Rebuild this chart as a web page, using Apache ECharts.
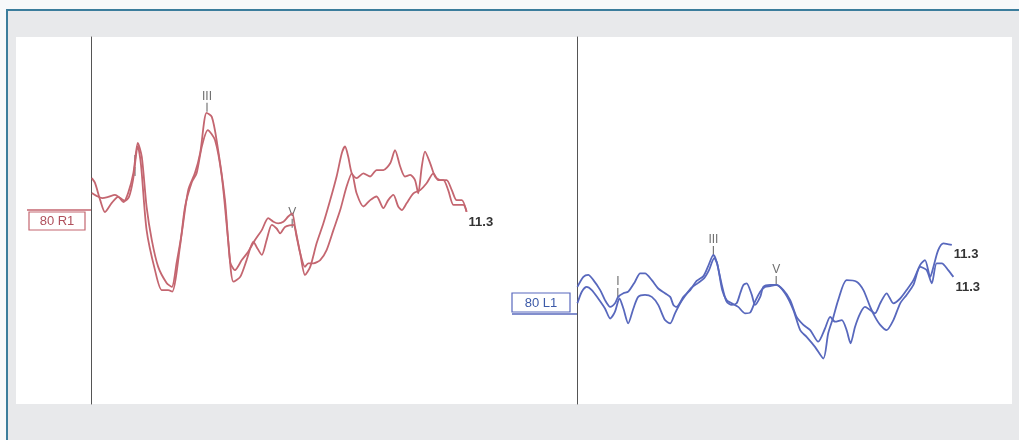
<!DOCTYPE html>
<html>
<head>
<meta charset="utf-8">
<script src="https://cdn.jsdelivr.net/npm/echarts@6/dist/echarts.min.js"></script>
<style>
  html, body { margin: 0; padding: 0; width: 1019px; height: 440px; overflow: hidden; background: #f7f9fa; }
  #frame { position: absolute; left: 6px; top: 9px; width: 1013px; height: 431px; border-top: 2px solid #3b7d9c; border-left: 2px solid #3b7d9c; background: #e8e9eb; box-sizing: border-box; }
  #panel { position: absolute; left: 16px; top: 37px; width: 996px; height: 367px; background: #ffffff; }
  #chart { position: absolute; left: 0; top: 0; width: 1019px; height: 440px; }
</style>
</head>
<body>
<div id="frame"></div>
<div id="panel"></div>
<div id="chart"></div>
<script>
// Time in ms, amplitude in arbitrary units
const rightEarTrace1 = [
  [0.02,1.06],[0.10,0.94],[0.23,0.51],[0.35,0.21],[0.52,0.44],[0.68,0.59],[0.81,0.46],[0.93,0.69],
  [1.06,1.19],[1.17,1.94],[1.27,1.59],[1.39,0.34],[1.52,-0.49],[1.68,-1.16],[1.89,-1.56],[2.02,-1.66],
  [2.14,-1.06],[2.27,-0.31],[2.43,0.76],[2.60,1.19],[2.73,1.69],[2.89,2.69],[3.02,2.59],[3.14,2.01],
  [3.35,0.51],[3.48,-1.04],[3.60,-1.24],[3.77,-0.99],[3.93,-0.78],[4.10,-0.49],[4.27,-0.24],[4.43,0.06],
  [4.56,-0.03],[4.68,-0.07],[4.81,-0.03],[4.93,0.10],[5.03,0.18],[5.10,-0.16],[5.23,-0.82],[5.35,-1.36],
  [5.48,-1.16],[5.64,-0.57],[5.81,-0.07],[5.98,0.51],[6.14,1.10],[6.27,1.68],[6.35,1.85],[6.43,1.60],
  [6.52,1.18],[6.64,1.06],[6.81,1.18],[6.98,1.10],[7.14,1.26],[7.31,1.26],[7.48,1.43],[7.60,1.76],
  [7.73,1.35],[7.85,1.10],[7.98,1.14],[8.10,1.01],[8.18,0.68],[8.27,1.35],[8.35,1.72],[8.48,1.43],
  [8.60,1.10],[8.73,1.01],[8.89,1.01],[9.02,0.76],[9.14,0.51],[9.27,0.51],[9.39,0.22]
];
const rightEarTrace2 = [
  [0.02,0.69],[0.15,0.61],[0.28,0.56],[0.43,0.59],[0.60,0.64],[0.73,0.56],[0.85,0.49],[0.95,0.59],
  [1.05,1.01],[1.17,1.86],[1.25,1.39],[1.39,-0.24],[1.60,-1.24],[1.77,-1.74],[1.93,-1.74],[2.03,-1.78],
  [2.23,-0.61],[2.35,0.34],[2.52,0.96],[2.64,1.18],[2.77,1.85],[2.92,2.26],[3.10,2.01],[3.27,1.10],
  [3.43,-0.49],[3.56,-1.53],[3.73,-1.41],[3.89,-0.99],[4.06,-0.53],[4.14,-0.66],[4.27,-0.86],[4.39,-0.49],
  [4.52,-0.11],[4.64,-0.20],[4.73,-0.32],[4.85,-0.16],[5.06,-0.11],[5.14,-0.41],[5.23,-0.82],[5.35,-1.16],
  [5.43,-1.07],[5.56,-1.07],[5.73,-0.99],[5.89,-0.74],[6.06,-0.24],[6.23,0.26],[6.39,0.85],[6.52,1.18],
  [6.64,0.68],[6.81,0.35],[6.98,0.51],[7.14,0.60],[7.31,0.31],[7.43,0.51],[7.56,0.64],[7.68,0.35],
  [7.77,0.26],[7.89,0.43],[8.06,0.68],[8.23,0.76],[8.39,0.93],[8.56,1.18],[8.68,1.01],[8.81,1.01],
  [8.93,0.76],[9.06,0.39],[9.18,0.39],[9.31,0.39],[9.39,0.22]
];
const leftEarTrace1 = [
  [0.01,-1.66],[0.16,-1.41],[0.28,-1.36],[0.41,-1.49],[0.58,-1.74],[0.70,-1.99],[0.83,-2.16],[0.95,-2.07],
  [1.03,-1.91],[1.16,-1.82],[1.28,-1.78],[1.45,-1.53],[1.58,-1.32],[1.70,-1.32],[1.87,-1.49],[2.03,-1.70],
  [2.20,-1.82],[2.33,-1.91],[2.41,-2.11],[2.49,-2.16],[2.66,-1.91],[2.83,-1.74],[2.99,-1.51],[3.16,-1.39],
  [3.28,-1.14],[3.41,-0.86],[3.49,-1.03],[3.62,-1.61],[3.74,-2.03],[3.87,-2.11],[3.99,-2.07],[4.08,-1.82],
  [4.16,-1.61],[4.24,-1.57],[4.37,-1.86],[4.45,-2.11],[4.58,-1.91],[4.66,-1.66],[4.83,-1.61],[4.98,-1.61],
  [5.16,-1.74],[5.33,-1.99],[5.49,-2.41],[5.66,-2.61],[5.83,-2.74],[6.03,-3.03],[6.20,-2.70],[6.33,-2.41],
  [6.45,-2.53],[6.62,-2.49],[6.74,-2.74],[6.84,-3.07],[6.95,-2.66],[7.08,-2.32],[7.20,-2.16],[7.33,-2.24],
  [7.45,-2.32],[7.58,-2.07],[7.74,-1.82],[7.91,-2.07],[8.08,-1.95],[8.24,-1.74],[8.41,-1.49],[8.58,-1.11],
  [8.70,-0.99],[8.83,-1.41],[8.91,-1.16],[9.03,-0.74],[9.16,-0.57],[9.37,-0.61]
];
const leftEarTrace2 = [
  [0.01,-2.07],[0.12,-1.78],[0.24,-1.66],[0.37,-1.74],[0.53,-1.95],[0.70,-2.20],[0.83,-2.45],[0.95,-2.28],
  [1.06,-1.95],[1.16,-2.20],[1.28,-2.57],[1.41,-2.20],[1.53,-1.91],[1.70,-1.86],[1.87,-1.91],[2.03,-2.11],
  [2.20,-2.49],[2.33,-2.57],[2.45,-2.32],[2.58,-2.07],[2.70,-1.89],[2.85,-1.69],[3.03,-1.56],[3.18,-1.44],
  [3.30,-1.24],[3.43,-0.94],[3.51,-1.09],[3.63,-1.74],[3.74,-1.99],[3.87,-2.07],[4.03,-2.16],[4.20,-2.32],
  [4.33,-2.30],[4.45,-2.03],[4.58,-1.78],[4.70,-1.66],[4.83,-1.64],[4.98,-1.61],[5.20,-1.82],[5.41,-2.24],
  [5.58,-2.74],[5.74,-2.91],[5.95,-3.16],[6.16,-3.45],[6.28,-2.82],[6.41,-2.41],[6.53,-1.99],[6.74,-1.49],
  [6.99,-1.53],[7.16,-1.74],[7.33,-2.16],[7.45,-2.41],[7.58,-2.61],[7.74,-2.74],[7.91,-2.49],[8.08,-2.07],
  [8.24,-1.86],[8.41,-1.61],[8.58,-1.16],[8.74,-1.24],[8.87,-1.57],[8.99,-1.07],[9.12,-1.07],[9.28,-1.24],
  [9.41,-1.41]
];
// Wave peak markers: [label, time, amplitude]
const rightEarPeaks = [['I',1.10,1.11],['III',2.90,2.72],['V',5.03,-0.18]];
const leftEarPeaks = [['I',1.02,-1.91],['III',3.41,-0.86],['V',4.98,-1.61]];
const endLabels = ['11.3','11.3','11.3'];
const channelLabels = ['80 R1','80 L1'];

const RED = '#c46670';
const BLUE = '#5868bd';

const chart = echarts.init(document.getElementById('chart'), null, {renderer: 'canvas'});

function yAxisCfg(i) {
  return {
    gridIndex: i, type: 'value', min: -4.5875, max: 4.5875,
    position: 'left',
    axisLine: {show: true, onZero: false, lineStyle: {color: '#555', width: 1}},
    axisTick: {show: false}, axisLabel: {show: false}, splitLine: {show: false}
  };
}
function peakSeries(peaks, idx) {
  return {
    type: 'scatter', xAxisIndex: idx, yAxisIndex: idx, silent: true,
    symbol: 'rect', symbolSize: [1.2, 9], symbolOffset: [0, -4.5],
    itemStyle: {color: '#555'},
    label: {show: true, position: 'top', distance: 0, formatter: '{b}',
            color: '#4a4a4a', fontSize: 12, fontFamily: 'Liberation Sans'},
    data: peaks.map(p => ({name: p[0], value: [p[1], p[2]]}))
  };
}
function trace(data, idx, color, endText, offset) {
  const s = {
    type: 'line', xAxisIndex: idx, yAxisIndex: idx, data: data,
    showSymbol: false, smooth: 0.25, silent: true,
    lineStyle: {color: color, width: 1.8}, itemStyle: {color: color}
  };
  if (endText) {
    s.endLabel = {show: true, formatter: endText, distance: 2, offset: offset,
      color: '#333', fontSize: 13, fontWeight: 'bold', fontFamily: 'Liberation Sans'};
  }
  return s;
}

chart.setOption({
  animation: false,
  backgroundColor: 'transparent',
  grid: [
    {left: 91, top: 37, width: 486, height: 367},
    {left: 577, top: 37, width: 435, height: 367}
  ],
  xAxis: [
    {gridIndex: 0, type: 'value', min: 0, max: 12.15, show: false},
    {gridIndex: 1, type: 'value', min: 0, max: 10.875, show: false}
  ],
  yAxis: [yAxisCfg(0), yAxisCfg(1)],
  series: [
    trace(rightEarTrace1, 0, RED, endLabels[0], [0, 11]),
    trace(rightEarTrace2, 0, RED),
    trace(leftEarTrace1, 1, BLUE, endLabels[1], [0, 10]),
    trace(leftEarTrace2, 1, BLUE, endLabels[2], [0, 11]),
    peakSeries(rightEarPeaks, 0),
    peakSeries(leftEarPeaks, 1)
  ],
  graphic: [
    {type: 'line', shape: {x1: 27, y1: 210, x2: 91, y2: 210}, style: {stroke: RED, lineWidth: 1.5}},
    {type: 'rect', shape: {x: 29, y: 212, width: 56, height: 18}, style: {fill: '#fff', stroke: RED, lineWidth: 1.2}},
    {type: 'text', x: 57, y: 221, style: {text: channelLabels[0], fill: '#b0505c', font: '13px "Liberation Sans"', align: 'center', verticalAlign: 'middle'}},
    {type: 'line', shape: {x1: 512, y1: 314, x2: 577, y2: 314}, style: {stroke: BLUE, lineWidth: 1.5}},
    {type: 'rect', shape: {x: 512, y: 293, width: 58, height: 19}, style: {fill: '#fff', stroke: BLUE, lineWidth: 1.2}},
    {type: 'text', x: 541, y: 303, style: {text: channelLabels[1], fill: '#3c5aa8', font: '13px "Liberation Sans"', align: 'center', verticalAlign: 'middle'}}
  ]
});
</script>
</body>
</html>
